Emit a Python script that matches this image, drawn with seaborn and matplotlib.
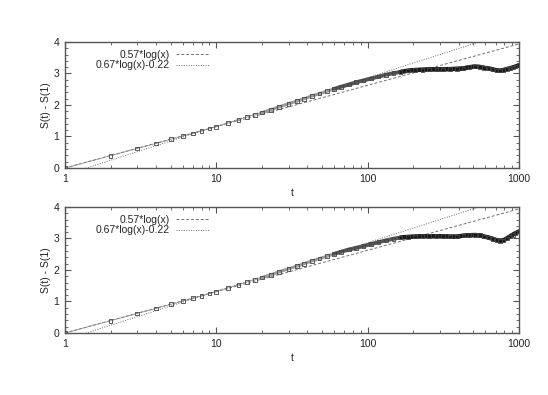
import numpy as np
import pandas as pd
import matplotlib
matplotlib.use('Agg')
import matplotlib.pyplot as plt
import matplotlib.ticker as mticker
import seaborn as sns

# values (t, S(t) - S(1))
t_vals = [1, 2, 3, 4, 5, 6, 7, 8, 9, 10, 12, 14, 16, 18, 20, 23, 26, 30, 34, 38,
          43, 48, 54, 60, 67, 75, 84, 94, 105, 118, 132, 148, 165, 185, 205, 230,
          255, 285, 315, 350, 390, 430, 470, 510, 550, 590, 630, 670, 710, 750,
          790, 830, 870, 910, 950, 1000]
s_top = [0.0, 0.39, 0.62, 0.78, 0.91, 1.01, 1.10, 1.18, 1.25, 1.31, 1.43, 1.53,
         1.62, 1.69, 1.76, 1.85, 1.94, 2.04, 2.12, 2.20, 2.29, 2.36, 2.44, 2.51,
         2.58, 2.65, 2.72, 2.78, 2.84, 2.90, 2.96, 3.01, 3.05, 3.09, 3.11, 3.12,
         3.13, 3.13, 3.13, 3.14, 3.15, 3.16, 3.20, 3.22, 3.21, 3.18, 3.16, 3.13,
         3.10, 3.09, 3.11, 3.14, 3.16, 3.19, 3.22, 3.26]
s_bottom = [0.0, 0.39, 0.62, 0.78, 0.91, 1.01, 1.10, 1.18, 1.25, 1.31, 1.43, 1.53,
            1.62, 1.69, 1.76, 1.85, 1.94, 2.04, 2.12, 2.20, 2.29, 2.36, 2.44, 2.51,
            2.58, 2.65, 2.70, 2.76, 2.82, 2.88, 2.94, 2.99, 3.03, 3.05, 3.06, 3.07,
            3.07, 3.07, 3.07, 3.06, 3.06, 3.09, 3.10, 3.11, 3.10, 3.06, 3.03, 2.99,
            2.95, 2.93, 2.94, 3.00, 3.06, 3.12, 3.17, 3.22]

fit1_label = '0.57*log(x)'
fit2_label = '0.67*log(x)-0.22'
x_ticks = [1, 10, 100, 1000]
y_ticks = [0, 1, 2, 3, 4]

sns.set_style('ticks')
plt.rcParams['font.family'] = ['Liberation Sans Narrow', 'Liberation Sans', 'DejaVu Sans']
plt.rcParams['font.size'] = 7.5
plt.rcParams['xtick.direction'] = 'in'
plt.rcParams['ytick.direction'] = 'in'

line_col = '#707070'
axis_col = '#555555'

fig = plt.figure(figsize=(5.48, 3.95), dpi=100)
ax_top = fig.add_axes([0.1186, 0.5747, 0.8284, 0.319])
ax_bot = fig.add_axes([0.1186, 0.157, 0.8284, 0.319])

# the two fitted curves are drawn over t
tt = np.logspace(0, 3, 400)
fits = pd.DataFrame({'t': tt,
                     'f1': 0.57 * np.log(tt),
                     'f2': 0.67 * np.log(tt) - 0.22})

for ax, s in [(ax_top, s_top), (ax_bot, s_bottom)]:
    df = pd.DataFrame({'t': t_vals, 's': s})
    sns.lineplot(data=fits, x='t', y='f1', ax=ax, color=line_col, lw=0.7,
                 linestyle=(0, (3, 2)), label=fit1_label)
    sns.lineplot(data=fits, x='t', y='f2', ax=ax, color=line_col, lw=0.7,
                 linestyle=(0, (1, 1.5)), label=fit2_label)
    # markers crowd together as t grows: grey band, then solid dark band
    sns.lineplot(data=df[df['t'] >= 20], x='t', y='s', ax=ax, color='#9a9a9a',
                 lw=2.2, legend=False, zorder=3)
    sns.lineplot(data=df[df['t'] >= 60], x='t', y='s', ax=ax, color='#555555',
                 lw=2.8, legend=False, zorder=3)
    sns.lineplot(data=df[df['t'] >= 150], x='t', y='s', ax=ax, color='#1a1a1a',
                 lw=3.2, legend=False, zorder=3)
    sns.lineplot(data=df, x='t', y='s', ax=ax, color='#888888', lw=0.5,
                 legend=False)
    sns.scatterplot(data=df, x='t', y='s', ax=ax, marker='s', s=7,
                    facecolor='none', edgecolor='#444444', linewidth=0.6,
                    legend=False, zorder=4)
    ax.set_xscale('log')
    ax.set_xlim(1, 1000)
    ax.set_ylim(0, 4)
    ax.set_xticks(x_ticks)
    ax.xaxis.set_major_formatter(mticker.FixedFormatter([str(v) for v in x_ticks]))
    ax.xaxis.set_minor_locator(mticker.LogLocator(base=10, subs=np.arange(2, 10)))
    ax.xaxis.set_minor_formatter(mticker.NullFormatter())
    ax.set_yticks(y_ticks)
    ax.yaxis.set_minor_locator(mticker.MultipleLocator(0.2))
    ax.tick_params(which='both', top=True, right=True, color=axis_col,
                   labelcolor='#222222', pad=4)
    ax.tick_params(which='major', length=4, width=0.8)
    ax.tick_params(which='minor', length=2, width=0.6)
    for sp in ax.spines.values():
        sp.set_color(axis_col)
        sp.set_linewidth(1.0)
    ax.set_xlabel('t', labelpad=3)
    ax.set_ylabel('S(t) - S(1)', labelpad=2)
    ax.legend(loc='upper left', bbox_to_anchor=(0.05, 1.0), frameon=False,
              markerfirst=False, handlelength=3.2, handletextpad=0.6,
              labelspacing=0.05, borderaxespad=0.35, fontsize=7.5)

fig.savefig('out.png', dpi=100, facecolor='white')
